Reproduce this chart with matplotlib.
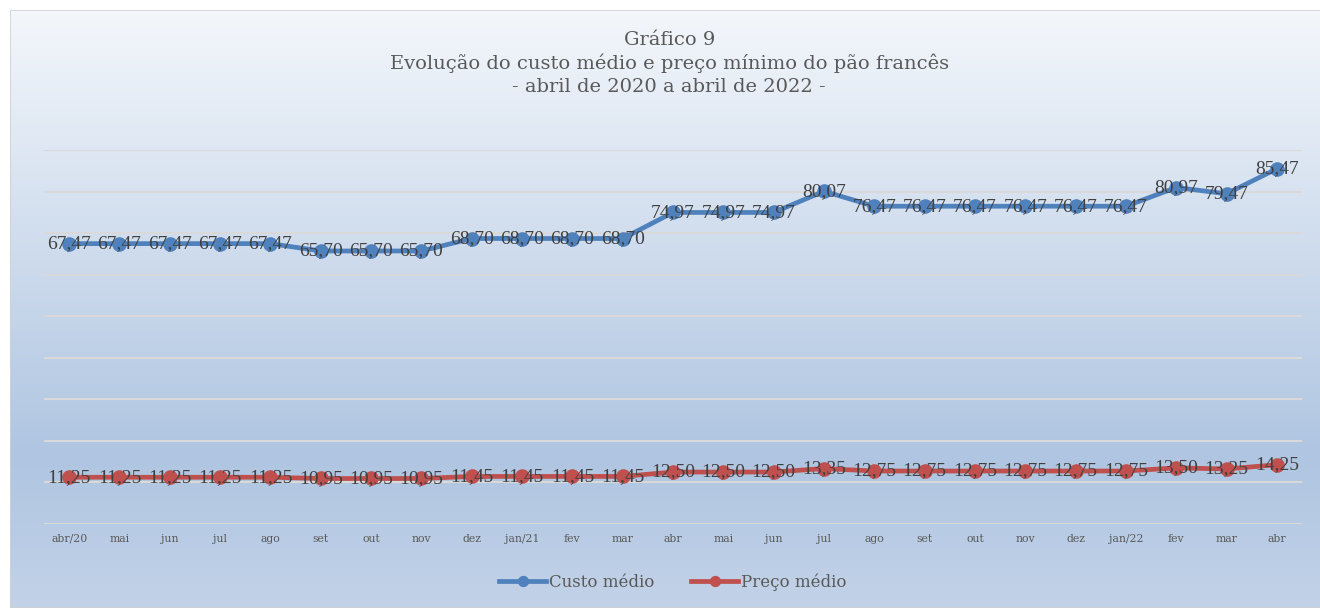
import numpy as np
import matplotlib.pyplot as plt
from matplotlib.colors import LinearSegmentedColormap
from matplotlib.patches import Rectangle

# Dados
meses = ['abr/20', 'mai', 'jun', 'jul', 'ago', 'set', 'out', 'nov', 'dez',
         'jan/21', 'fev', 'mar', 'abr', 'mai', 'jun', 'jul', 'ago', 'set',
         'out', 'nov', 'dez', 'jan/22', 'fev', 'mar', 'abr']
custo_medio = [67.47, 67.47, 67.47, 67.47, 67.47, 65.70, 65.70, 65.70, 68.70,
               68.70, 68.70, 68.70, 74.97, 74.97, 74.97, 80.07, 76.47, 76.47,
               76.47, 76.47, 76.47, 76.47, 80.97, 79.47, 85.47]
preco_medio = [11.25, 11.25, 11.25, 11.25, 11.25, 10.95, 10.95, 10.95, 11.45,
               11.45, 11.45, 11.45, 12.50, 12.50, 12.50, 13.35, 12.75, 12.75,
               12.75, 12.75, 12.75, 12.75, 13.50, 13.25, 14.25]

fonte = 'DejaVu Serif'
fonte_rotulo = 'Liberation Serif'
azul = '#4f81bd'
vermelho = '#c0504d'

fig = plt.figure(figsize=(13.2, 6.08), dpi=100)

# Fundo com gradiente
bg = fig.add_axes([0, 0, 1, 1], zorder=0)
grad = LinearSegmentedColormap.from_list(
    'g', [(0, '#f5f8fc'), (0.75, '#afc5e1'), (1.0, '#c2d2e8')])
bg.imshow(np.linspace(0, 1, 256).reshape(-1, 1), aspect='auto', cmap=grad,
          extent=[0, 1, 0, 1], origin='upper')
bg.add_patch(Rectangle((10 / 1320, 0), 1, 1 - 10 / 608, transform=bg.transAxes,
                       fill=False, edgecolor='#d0d0d0', lw=1.2))
bg.add_patch(Rectangle((0, 0), 10 / 1320, 1, transform=bg.transAxes,
                       color='white', lw=0))
bg.add_patch(Rectangle((0, 1 - 10 / 608), 1, 10 / 608, transform=bg.transAxes,
                       color='white', lw=0))
bg.set_xlim(0, 1)
bg.set_ylim(0, 1)
bg.axis('off')

ax = fig.add_axes([44 / 1320, 84 / 608, 1258 / 1320, 374 / 608], zorder=1)
ax.patch.set_alpha(0)
x = np.arange(len(meses))

ax.plot(x, custo_medio, color=azul, lw=3.4, marker='o', ms=9.5,
        label='Custo médio', zorder=3)
ax.plot(x, preco_medio, color=vermelho, lw=3.4, marker='o', ms=9.5,
        label='Preço médio', zorder=3)

# rótulos de dados centrados no ponto
for serie in (custo_medio, preco_medio):
    for i, v in enumerate(serie):
        ax.text(i, v, f'{v:.2f}'.replace('.', ','), ha='center', va='center',
                fontsize=14, color='#404040', family=fonte_rotulo, zorder=4)

ax.set_ylim(0, 90)
ax.set_xlim(-0.5, len(meses) - 0.5)
ax.set_yticks(np.arange(0, 91, 10))
ax.set_yticklabels([])
ax.grid(axis='y', color='#d9d9d9', lw=1.5)
ax.set_axisbelow(True)
ax.tick_params(axis='y', length=0)
ax.tick_params(axis='x', length=0, pad=7)
ax.set_xticks(x)
ax.set_xticklabels(meses, fontsize=7.8, color='#595959', family=fonte)
for s in ax.spines.values():
    s.set_visible(False)

titulo = ['Gráfico 9',
          'Evolução do custo médio e preço mínimo do pão francês',
          '- abril de 2020 a abril de 2022 -']
for linha, ypix in zip(titulo, [40, 63, 87]):
    fig.text(0.507, 1 - ypix / 608, linha, ha='center', va='center',
             fontsize=14, color='#595959', family=fonte)

leg = fig.legend(loc='center', bbox_to_anchor=(0.51, 1 - 582 / 608), ncol=2,
                 frameon=False, handlelength=2.8, handletextpad=0.2,
                 columnspacing=2.2, markerscale=0.75,
                 prop={'family': fonte, 'size': 12})
for t in leg.get_texts():
    t.set_color('#595959')

fig.savefig('out.png', dpi=100)
